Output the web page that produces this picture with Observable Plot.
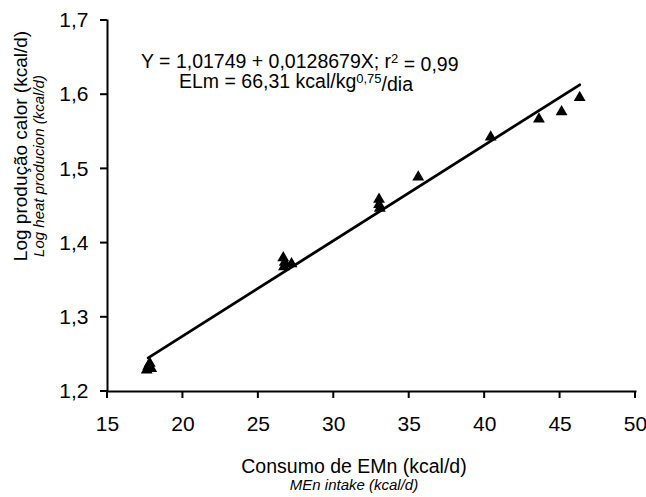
<!DOCTYPE html>
<html>
<head>
<meta charset="utf-8">
<script src="https://cdn.jsdelivr.net/npm/d3@7"></script>
<script src="https://cdn.jsdelivr.net/npm/@observablehq/plot@0.6"></script>
<style>
  html, body { margin: 0; padding: 0; background: white; }
</style>
</head>
<body>
<div id="chart"></div>
<script>
// Observed points (MEn intake, log heat production)
const intake = [17.6, 17.9, 17.7, 17.8, 17.75, 26.65, 26.7, 26.75, 27.2, 33.0, 33.0, 33.05, 35.6, 40.4, 43.6, 45.1, 46.3];
const logHeat = [1.229, 1.231, 1.234, 1.238, 1.232, 1.380, 1.368, 1.374, 1.372, 1.459, 1.452, 1.447, 1.489, 1.543, 1.567, 1.577, 1.596];

// Fitted regression line end points
const fitX = [17.7, 46.3];
const fitY = [1.2453, 1.6133];

// Tick values
const xTicks = [15, 20, 25, 30, 35, 40, 45, 50];
const yTicks = [1.2, 1.3, 1.4, 1.5, 1.6, 1.7];

const points = intake.map((x, i) => ({x, y: logHeat[i]}));
const fit = fitX.map((x, i) => ({x, y: fitY[i]}));

// axis frame: corners taken from the domains
const xDom = [xTicks[0], xTicks[xTicks.length - 1]];
const yDom = [yTicks[0], yTicks[yTicks.length - 1]];
const axisFrame = [{x: xDom[0], y: yDom[1]}, {x: xDom[0], y: yDom[0]}, {x: xDom[1], y: yDom[0]}];

const font = "'Liberation Sans', Arial, sans-serif";
const fmt = d => d.toFixed(1).replace(".", ",");

const svg = Plot.plot({
  width: 646,
  height: 497,
  marginLeft: 107,
  marginRight: 11,
  marginTop: 20,
  marginBottom: 106,
  style: {fontFamily: font, color: "black", background: "white", overflow: "visible"},
  x: {domain: xDom},
  y: {domain: yDom},
  marks: [
    Plot.axisX({ticks: xTicks, tickSize: 0, tickPadding: 25, label: null, fontSize: 21}),
    Plot.axisY({ticks: yTicks, tickSize: 0, tickPadding: 19, label: null, fontSize: 21, tickFormat: fmt}),
    Plot.line(axisFrame, {x: "x", y: "y", stroke: "#000", strokeWidth: 2, strokeLinejoin: "miter", strokeLinecap: "square"}),
    Plot.line(fit, {x: "x", y: "y", stroke: "black", strokeWidth: 2.8}),
    Plot.dot(points, {x: "x", y: "y", symbol: "triangle", fill: "black", stroke: "none", r: 4.4})
  ]
});

const s = d3.select(svg);

// Tick marks drawn from the plot's scales
const xs = svg.scale("x"), ys = svg.scale("y");
const X0 = xs.apply(xDom[0]), Y0 = ys.apply(yDom[0]);
s.append("g").attr("stroke", "#000").attr("stroke-width", 2)
  .selectAll("line").data(xTicks).join("line")
  .attr("x1", d => xs.apply(d)).attr("x2", d => xs.apply(d))
  .attr("y1", Y0).attr("y2", Y0 + 7);
s.append("g").attr("stroke", "#000").attr("stroke-width", 2)
  .selectAll("line").data(yTicks).join("line")
  .attr("y1", d => ys.apply(d)).attr("y2", d => ys.apply(d))
  .attr("x1", X0 - 7).attr("x2", X0);

// Equation annotation
const eq1 = s.append("text").attr("x", 141).attr("y", 68).attr("text-anchor", "start")
  .style("font-family", font).style("font-size", "19.5px").attr("fill", "black");
eq1.append("tspan").text("Y = 1,01749 + 0,0128679X; r");
eq1.append("tspan").attr("dy", "-0.42em").style("font-size", "13px").text("2");
eq1.append("tspan").attr("dy", "0.42em").text(" = 0,99");

const eq2 = s.append("text").attr("x", 179).attr("y", 88).attr("text-anchor", "start")
  .style("font-family", font).style("font-size", "19.5px").attr("fill", "black");
eq2.append("tspan").text("ELm = 66,31 kcal/kg");
eq2.append("tspan").attr("dy", "-0.42em").style("font-size", "13px").text("0,75");
eq2.append("tspan").attr("dy", "0.42em").text("/dia");

// X axis titles
s.append("text").attr("x", 354).attr("y", 473).attr("text-anchor", "middle")
  .style("font-family", font).style("font-size", "19.5px").attr("fill", "black")
  .text("Consumo de EMn (kcal/d)");
s.append("text").attr("x", 354).attr("y", 490).attr("text-anchor", "middle")
  .style("font-family", font).style("font-size", "15px").style("font-style", "italic").attr("fill", "black")
  .text("MEn intake (kcal/d)");

// Y axis titles
s.append("text").attr("transform", "translate(27,146) rotate(-90)").attr("text-anchor", "middle")
  .style("font-family", font).style("font-size", "19px").attr("fill", "black")
  .text("Log produção calor (kcal/d)");
s.append("text").attr("transform", "translate(44,166) rotate(-90)").attr("text-anchor", "middle")
  .style("font-family", font).style("font-size", "15px").style("font-style", "italic").attr("fill", "black")
  .text("Log heat producion (kcal/d)");

document.getElementById("chart").appendChild(svg);
</script>
</body>
</html>
